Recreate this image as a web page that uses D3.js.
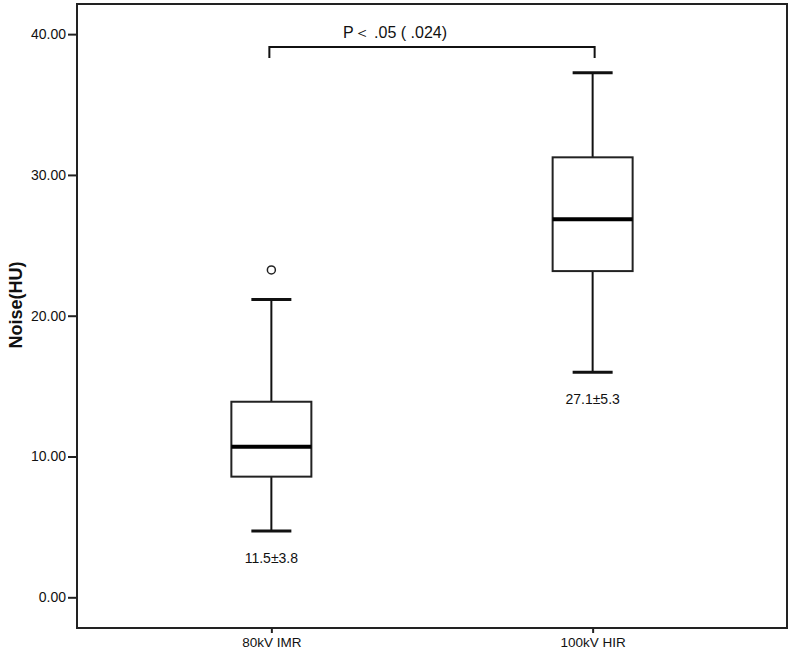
<!DOCTYPE html>
<html>
<head>
<meta charset="utf-8">
<script src="https://cdn.jsdelivr.net/npm/d3@7"></script>
<style>
  body { margin: 0; background: #fff; }
  text { font-family: Arial, 'Liberation Sans', sans-serif; fill: #111; }
</style>
</head>
<body>
<svg id="chart" width="793" height="655"></svg>
<script>
// data
const groups = ['80kV IMR', '100kV HIR']
const whiskerLow = [4.71, 15.98]
const q1 = [8.57, 23.17]
const medians = [10.70, 26.85]
const q3 = [13.89, 31.25]
const whiskerHigh = [21.16, 37.26]
const outliers = [[23.25], []]
const meanLabels = ['11.5±3.8', '27.1±5.3']
const yTicks = [0, 10, 20, 30, 40]
const pLabel = 'P\uFF1C .05 ( .024)'

const svg = d3.select('#chart')
const margin = { top: 4, right: 6, bottom: 27, left: 77 }
const width = +svg.attr('width') - margin.left - margin.right
const height = +svg.attr('height') - margin.top - margin.bottom
const g = svg.append('g').attr('transform', 'translate(' + margin.left + ',' + margin.top + ')')

const x = d3.scalePoint()
  .domain(groups)
  .range([0, width])
  .padding(0.605)

const y = d3.scaleLinear()
  .domain([-2.18, 42.14])
  .range([height, 0])

const boxW = 80
const capW = 40

// frame
g.append('rect')
  .attr('x', 0).attr('y', 0)
  .attr('width', width).attr('height', height)
  .attr('fill', 'none')
  .attr('stroke', '#222')
  .attr('stroke-width', 2)

// Y-axis
const yAxis = g.append('g')
  .call(d3.axisLeft(y).tickValues(yTicks).tickFormat(d3.format('.2f')).tickSize(9).tickPadding(2))
yAxis.select('.domain').remove()
yAxis.selectAll('line').attr('stroke', '#222').attr('stroke-width', 2)
yAxis.selectAll('text').attr('font-size', 14).attr('fill', '#111').style('font-family', 'Arial, Liberation Sans, sans-serif')

// X-axis
const xAxis = g.append('g')
  .attr('transform', 'translate(0,' + height + ')')
  .call(d3.axisBottom(x).tickSize(5).tickPadding(4))
xAxis.select('.domain').remove()
xAxis.selectAll('line').attr('stroke', '#222').attr('stroke-width', 2)
xAxis.selectAll('text').attr('font-size', 13.5).attr('fill', '#111').style('font-family', 'Arial, Liberation Sans, sans-serif')

// axis title
svg.append('text')
  .attr('transform', 'translate(22,305) rotate(-90)')
  .attr('text-anchor', 'middle')
  .attr('font-size', 18)
  .attr('font-weight', 'bold')
  .text('Noise(HU)')

// boxes
const boxes = g.selectAll('.box')
  .data(groups)
  .enter().append('g')
  .attr('class', 'box')
  .attr('transform', d => 'translate(' + x(d) + ',0)')

boxes.append('line')
  .attr('x1', 0).attr('x2', 0)
  .attr('y1', (d, i) => y(whiskerHigh[i]))
  .attr('y2', (d, i) => y(q3[i]))
  .attr('stroke', '#111').attr('stroke-width', 2)

boxes.append('line')
  .attr('x1', 0).attr('x2', 0)
  .attr('y1', (d, i) => y(q1[i]))
  .attr('y2', (d, i) => y(whiskerLow[i]))
  .attr('stroke', '#111').attr('stroke-width', 2)

boxes.append('line')
  .attr('x1', -capW / 2).attr('x2', capW / 2)
  .attr('y1', (d, i) => y(whiskerHigh[i]))
  .attr('y2', (d, i) => y(whiskerHigh[i]))
  .attr('stroke', '#111').attr('stroke-width', 3)

boxes.append('line')
  .attr('x1', -capW / 2).attr('x2', capW / 2)
  .attr('y1', (d, i) => y(whiskerLow[i]))
  .attr('y2', (d, i) => y(whiskerLow[i]))
  .attr('stroke', '#111').attr('stroke-width', 3)

boxes.append('rect')
  .attr('x', -boxW / 2)
  .attr('width', boxW)
  .attr('y', (d, i) => y(q3[i]))
  .attr('height', (d, i) => y(q1[i]) - y(q3[i]))
  .attr('fill', '#fff')
  .attr('stroke', '#222')
  .attr('stroke-width', 2)

boxes.append('line')
  .attr('x1', -boxW / 2).attr('x2', boxW / 2)
  .attr('y1', (d, i) => y(medians[i]))
  .attr('y2', (d, i) => y(medians[i]))
  .attr('stroke', '#000').attr('stroke-width', 4)

boxes.selectAll('circle')
  .data((d, i) => outliers[i])
  .enter().append('circle')
  .attr('cx', 0)
  .attr('cy', d => y(d))
  .attr('r', 4)
  .attr('fill', '#fff')
  .attr('stroke', '#222')
  .attr('stroke-width', 1.5)

// mean ± sd labels under the lower whisker
boxes.append('text')
  .attr('x', 0)
  .attr('y', (d, i) => y(whiskerLow[i]) + 32)
  .attr('text-anchor', 'middle')
  .attr('font-size', 14)
  .text((d, i) => meanLabels[i])

// significance bracket
const bracketY = 43
const bx1 = x(groups[0]) - 2
const bx2 = x(groups[1]) + 2
g.append('path')
  .attr('d', 'M' + bx1 + ',' + (bracketY + 11) + 'V' + bracketY + 'H' + bx2 + 'V' + (bracketY + 11))
  .attr('fill', 'none')
  .attr('stroke', '#111')
  .attr('stroke-width', 2)

g.append('text')
  .attr('x', 318)
  .attr('y', 34)
  .attr('text-anchor', 'middle')
  .attr('font-size', 16)
  .text(pLabel)
</script>
</body>
</html>
